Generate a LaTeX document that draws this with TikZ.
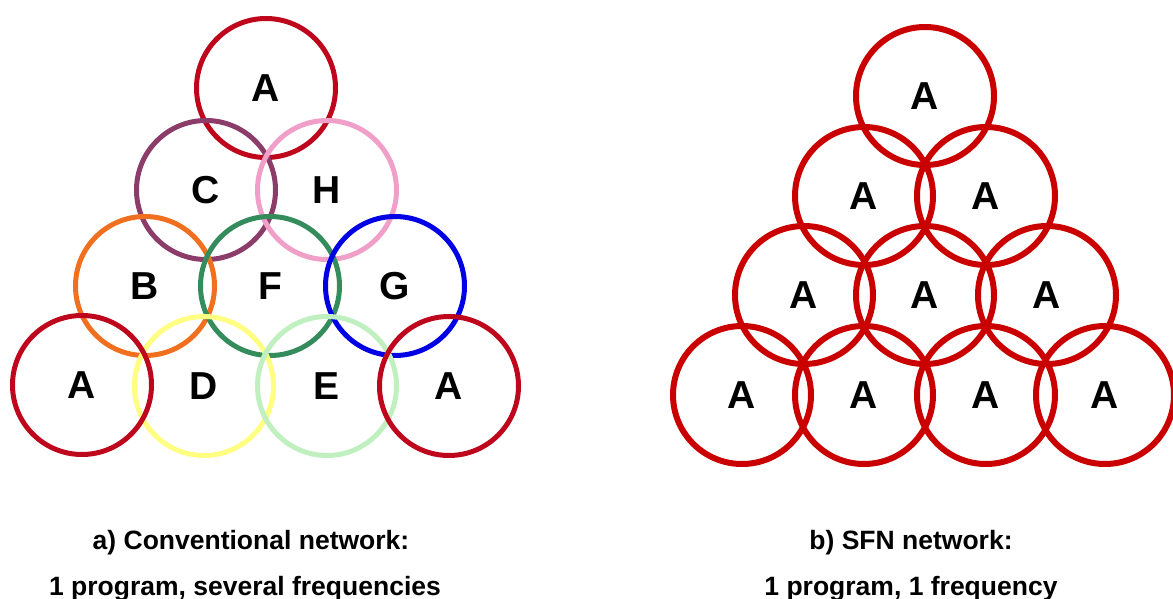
\documentclass[tikz,border=0pt]{standalone}
\usepackage{fontspec}
\setmainfont{Liberation Sans}
\definecolor{cA}{RGB}{190,6,28}
\definecolor{cC}{RGB}{140,60,105}
\definecolor{cH}{RGB}{240,160,200}
\definecolor{cB}{RGB}{240,112,32}
\definecolor{cF}{RGB}{52,140,92}
\definecolor{cG}{RGB}{0,0,228}
\definecolor{cD}{RGB}{255,255,130}
\definecolor{cE}{RGB}{192,240,192}
\definecolor{cR}{RGB}{202,0,0}
\tikzset{
  cell/.style={circle, draw=#1, line width=5pt, minimum size=139pt, inner sep=0pt,
    font=\fontsize{39}{40}\selectfont\bfseries, text=black},
  sfn/.style={circle, draw=cR, line width=6pt, minimum size=138pt, inner sep=0pt,
    font=\fontsize{39}{40}\selectfont\bfseries, text=black},
  caption/.style={anchor=base, font=\fontsize{26.5}{30}\selectfont\bfseries, inner sep=0pt}
}
\begin{document}
\begin{tikzpicture}[x=1pt,y=-1pt]
\useasboundingbox (0,0) rectangle (1173,599);
% left: conventional network
\node[cell=cA] (a1) at (266,88) {A};
\node[cell=cC] (c) at (206,190) {C};
\node[cell=cH] (h) at (327,190) {H};
\node[cell=cB] (b) at (145,286) {B};
\node[cell=cF] (f) at (270,286) {F};
\node[cell=cG] (g) at (395,286) {G};
\node[cell=cD] (d) at (204,386) {D};
\node[cell=cE] (e) at (327,386) {E};
\node[cell=cA] (a2) at (82,385) {A};
\node[cell=cA] (a3) at (449,386) {A};
% right: SFN network
\node[sfn] (r1) at (925,96) {A};
\node[sfn] (r21) at (864,196) {A};
\node[sfn] (r22) at (986,196) {A};
\node[sfn] (r31) at (804,295) {A};
\node[sfn] (r32) at (925,295) {A};
\node[sfn] (r33) at (1047,295) {A};
\node[sfn] (r41) at (742,395) {A};
\node[sfn] (r42) at (864,395) {A};
\node[sfn] (r43) at (986,395) {A};
\node[sfn] (r44) at (1105,395) {A};
% captions
\node[caption] (ta1) at (251,549) {a) Conventional network:};
\node[caption] (ta2) at (245,595) {1 program, several frequencies};
\node[caption] (tb1) at (911,549) {b) SFN network:};
\node[caption] (tb2) at (911,595) {1 program, 1 frequency};
\end{tikzpicture}
\end{document}
